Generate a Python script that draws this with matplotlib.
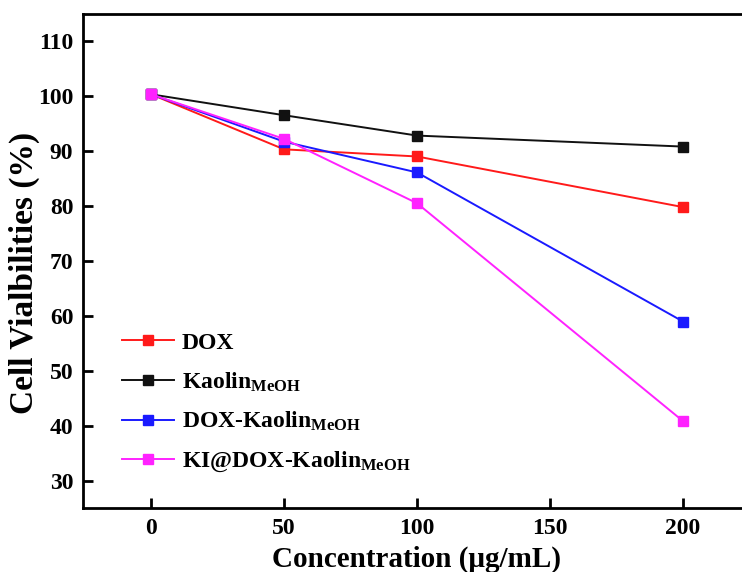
import matplotlib
matplotlib.use("Agg")
import matplotlib.pyplot as plt

concentration = [0, 50, 100, 200]
dox = [100.3, 90.3, 89.0, 79.8]
kaolin = [100.3, 96.5, 92.8, 90.8]
dox_kaolin = [100.3, 91.7, 86.1, 59.0]
ki_dox_kaolin = [100.3, 92.2, 80.5, 40.9]

labels = ["DOX", r"Kaolin$_{\mathrm{MeOH}}$", r"DOX-Kaolin$_{\mathrm{MeOH}}$",
          r"KI@DOX-Kaolin$_{\mathrm{MeOH}}$"]
colors = ["#ff1a1a", "#111111", "#1a1aff", "#ff22ff"]
xticks = [0, 50, 100, 150, 200]
yticks = [30, 40, 50, 60, 70, 80, 90, 100, 110]

plt.rcParams['font.family'] = ['Liberation Serif', 'DejaVu Serif']
plt.rcParams['font.weight'] = 'bold'
plt.rcParams['mathtext.fontset'] = 'custom'
plt.rcParams['mathtext.rm'] = 'Liberation Serif:bold'
plt.rcParams['mathtext.it'] = 'Liberation Serif:bold'
plt.rcParams['mathtext.bf'] = 'Liberation Serif:bold'

fig = plt.figure(figsize=(7.42, 5.72), dpi=100)
W, H = 742, 572
left, right, top, bottom = 83, 750, 14, 508
ax = fig.add_axes([left / W, (H - bottom) / H, (right - left) / W, (bottom - top) / H])

for ys, lab, c in zip([dox, kaolin, dox_kaolin, ki_dox_kaolin], labels, colors):
    ax.plot(concentration, ys, color=c, lw=1.4, marker='s', ms=7.5, mfc=c, mec=c, label=lab)

ax.set_xlim(-25.6, 225.2)
ax.set_ylim(25.1, 114.9)
ax.set_xticks(xticks)
ax.set_yticks(yticks)
ax.tick_params(direction='in', length=7, width=2.0, labelsize=17, pad=7)
for s in ax.spines.values():
    s.set_linewidth(2.0)

ax.set_xlabel("Concentration (μg/mL)", fontsize=21, fontweight='bold', labelpad=5)
ax.set_ylabel("Cell Vialbilities (%)", fontsize=24, fontweight='bold')
ax.yaxis.set_label_coords(-0.064, 0.475)

leg = ax.legend(loc='upper left', bbox_to_anchor=(0.044, 0.375), frameon=False,
                fontsize=17, handlelength=2.2, labelspacing=0.7, handletextpad=0.35,
                borderaxespad=0)

fig.savefig("out.png", dpi=100)
